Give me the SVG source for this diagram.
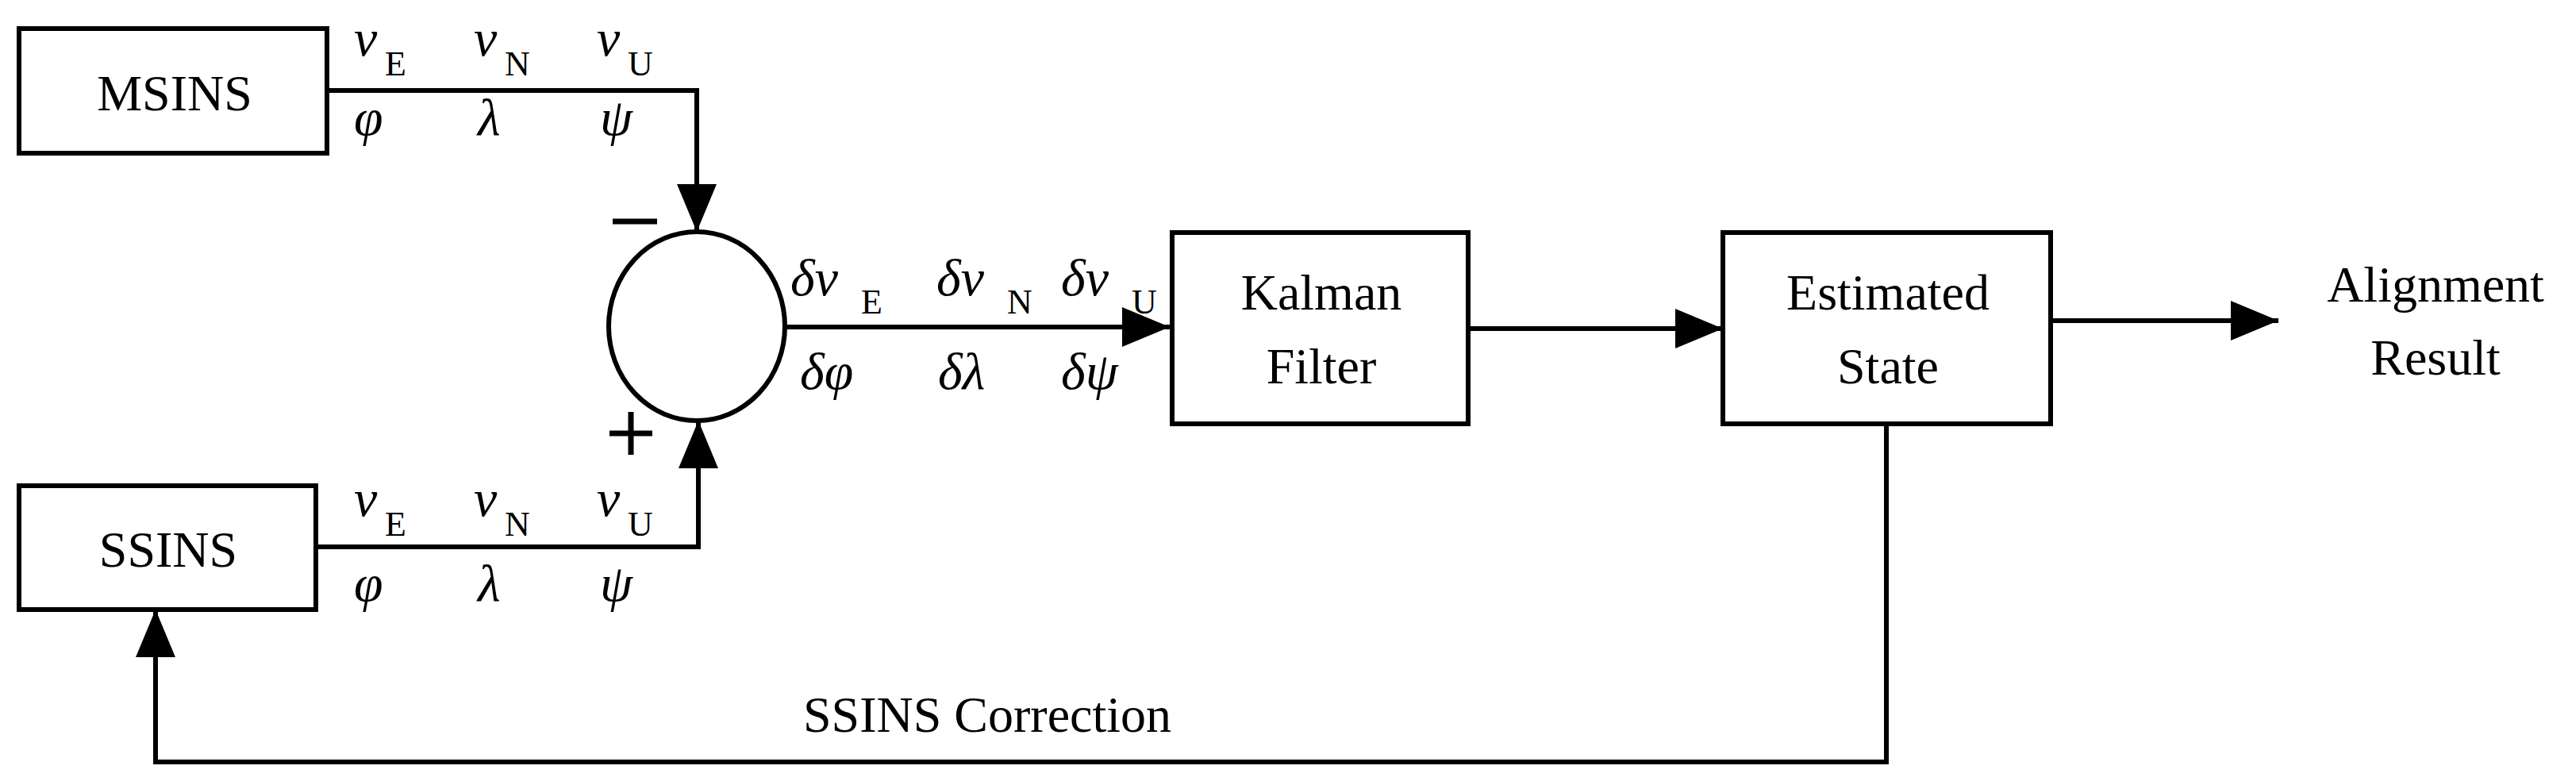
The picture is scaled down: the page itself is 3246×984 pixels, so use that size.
<svg xmlns="http://www.w3.org/2000/svg" width="3246" height="984" viewBox="0 0 3246 984">
<style>
text{font-family:"Liberation Serif","DejaVu Serif",serif;fill:#000}
.t{font-size:64px;text-anchor:middle}
.i{font-size:66px;font-style:italic}
.s{font-size:44px}
.box{fill:#fff;stroke:#000;stroke-width:6}
.ln{fill:none;stroke:#000;stroke-width:6}
</style>
<defs><marker id="a" viewBox="0 0 10 10" refX="10" refY="5" markerWidth="10" markerHeight="10" markerUnits="userSpaceOnUse" orient="auto"><path d="M0,0L10,5L0,10z"/></marker>
<marker id="b" viewBox="0 0 60 50" refX="60" refY="25" markerWidth="60" markerHeight="50" markerUnits="userSpaceOnUse" orient="auto"><path d="M0,0L60,25L0,50z"/></marker></defs>
<g id="connectors">
<path class="ln" d="M412,114H878V292" marker-end="url(#b)"/>
<path class="ln" d="M398,689H880V530" marker-end="url(#b)"/>
<path class="ln" d="M989,412H1474" marker-end="url(#b)"/>
<path class="ln" d="M1850,414H2171" marker-end="url(#b)"/>
<path class="ln" d="M2584,404H2871" marker-end="url(#b)"/>
<path class="ln" d="M2377,534V960H196V768" marker-end="url(#b)"/>
</g>
<g id="msins"><rect class="box" x="24" y="36" width="388" height="157"/><text class="t" x="220" y="139">MSINS</text></g>
<g id="ssins"><rect class="box" x="24" y="612" width="374" height="156"/><text class="t" x="212" y="714">SSINS</text></g>
<g id="sum"><ellipse class="ln" cx="878" cy="411" rx="111" ry="119"/>
<path d="M772,279H828M768,546H822M795,519V573" stroke="#000" stroke-width="7"/></g>
<g id="kalman"><rect class="box" x="1477" y="293" width="373" height="241"/><text class="t" x="1665" y="390">Kalman</text><text class="t" x="1665" y="483">Filter</text></g>
<g id="est"><rect class="box" x="2171" y="293" width="413" height="241"/><text class="t" x="2379" y="390">Estimated</text><text class="t" x="2379" y="483">State</text></g>
<g id="align"><text class="t" x="3069" y="380">Alignment</text><text class="t" x="3069" y="472">Result</text></g>
<g id="labels">
<text x="446" y="70" class="i">v</text><text x="485" y="95" class="s">E</text>
<text x="597" y="70" class="i">v</text><text x="636" y="95" class="s">N</text>
<text x="752" y="70" class="i">v</text><text x="791" y="95" class="s">U</text>
<text x="446" y="170" class="i">φ</text><text x="602" y="170" class="i">λ</text><text x="756" y="170" class="i">ψ</text>
<text x="446" y="650" class="i">v</text><text x="485" y="675" class="s">E</text>
<text x="597" y="650" class="i">v</text><text x="636" y="675" class="s">N</text>
<text x="752" y="650" class="i">v</text><text x="791" y="675" class="s">U</text>
<text x="446" y="757" class="i">φ</text><text x="602" y="757" class="i">λ</text><text x="756" y="757" class="i">ψ</text>
<text x="996" y="372" class="i">δv</text><text x="1085" y="395" class="s">E</text>
<text x="1180" y="372" class="i">δv</text><text x="1269" y="395" class="s">N</text>
<text x="1337" y="372" class="i">δv</text><text x="1426" y="395" class="s">U</text>
<text x="1008" y="490" class="i">δφ</text><text x="1182" y="490" class="i">δλ</text><text x="1337" y="490" class="i">δψ</text>
<text x="1012" y="922" style="font-size:64px">SSINS Correction</text>
</g>
</svg>
